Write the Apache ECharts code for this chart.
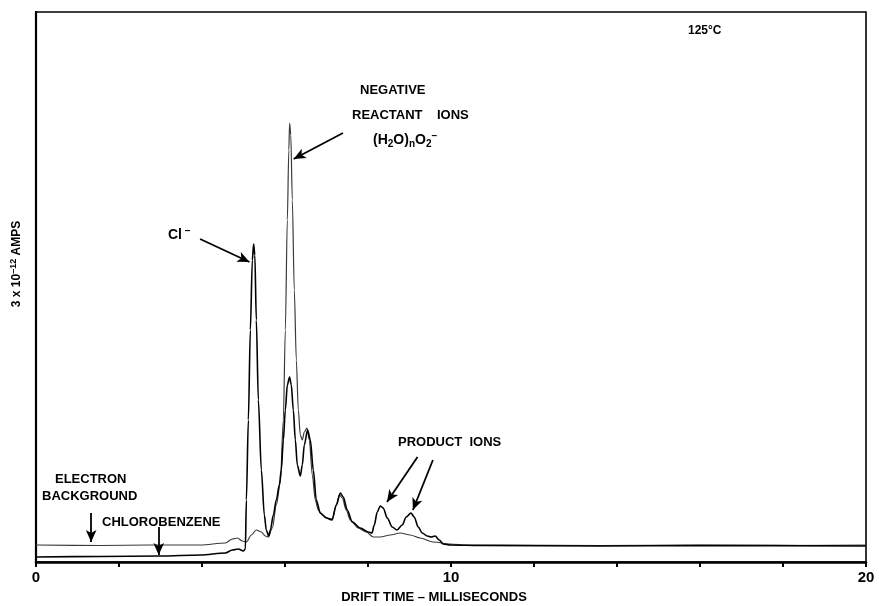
<!DOCTYPE html>
<html>
<head>
<meta charset="utf-8">
<script src="https://cdn.jsdelivr.net/npm/echarts@6/dist/echarts.min.js"></script>
<style>html,body{margin:0;padding:0;background:#fff}#c{width:879px;height:606px}</style>
</head>
<body>
<div id="c"></div>
<script>
// Electron background trace (drift time ms, current arbitrary units)
var bgTime = [0, 1.553, 2.757, 3.961, 4.563, 4.731, 4.852, 4.972, 5.069, 5.189, 5.309, 5.430, 5.526, 5.598, 5.695, 5.791, 5.887, 5.960, 6.008, 6.056, 6.092, 6.111, 6.140, 6.176, 6.224, 6.273, 6.321, 6.369, 6.417, 6.465, 6.530, 6.586, 6.658, 6.730, 6.802, 6.899, 7.019, 7.139, 7.236, 7.315, 7.380, 7.476, 7.573, 7.765, 7.958, 8.127, 8.295, 8.536, 8.777, 9.018, 9.258, 9.571, 9.981, 10.390, 11.185, 13.592, 16.000, 18.408, 20];
var bgAmp  = [1.7, 1.65, 1.7, 1.7, 1.9, 2.3, 2.4, 2.1, 2.0, 2.7, 3.2, 3.0, 2.6, 2.5, 3.4, 5.7, 7.9, 14.2, 23.2, 34.2, 41.2, 43.9, 42.7, 36.2, 27.2, 20.2, 15.2, 12.7, 12.2, 13.0, 13.4, 12.2, 8.7, 6.2, 5.2, 4.7, 4.4, 4.3, 5.7, 6.7, 6.4, 5.2, 4.2, 3.4, 3.0, 2.5, 2.5, 2.7, 2.9, 2.7, 2.4, 2.0, 1.8, 1.7, 1.7, 1.65, 1.7, 1.65, 1.7];
// Chlorobenzene trace
var cbTime = [0, 1.553, 2.998, 3.961, 4.563, 4.731, 4.876, 4.996, 5.045, 5.069, 5.117, 5.165, 5.213, 5.244, 5.273, 5.309, 5.358, 5.430, 5.502, 5.550, 5.606, 5.647, 5.719, 5.791, 5.863, 5.911, 5.960, 6.008, 6.056, 6.111, 6.152, 6.200, 6.249, 6.297, 6.369, 6.417, 6.465, 6.545, 6.610, 6.682, 6.754, 6.850, 6.995, 7.132, 7.236, 7.332, 7.404, 7.500, 7.621, 7.813, 8.006, 8.095, 8.151, 8.223, 8.295, 8.367, 8.464, 8.584, 8.697, 8.825, 8.921, 9.034, 9.114, 9.210, 9.307, 9.427, 9.523, 9.619, 9.716, 9.812, 9.981, 10.703, 13.592, 16.000, 20];
var cbAmp  = [0.5, 0.55, 0.6, 0.7, 0.9, 1.2, 1.3, 1.1, 1.3, 6.2, 14.2, 23.2, 30.2, 31.8, 30.7, 24.2, 16.2, 9.2, 4.7, 3.2, 2.6, 3.2, 4.7, 6.2, 7.7, 9.2, 12.2, 15.2, 17.7, 18.5, 17.7, 15.2, 12.2, 9.7, 8.6, 9.7, 11.7, 13.2, 12.2, 9.2, 6.2, 4.9, 4.4, 4.2, 5.7, 6.9, 6.5, 5.2, 4.0, 3.4, 3.0, 2.9, 3.7, 5.0, 5.6, 5.4, 4.4, 3.5, 3.2, 3.7, 4.5, 4.9, 4.5, 3.5, 2.9, 2.6, 2.5, 2.6, 2.2, 1.8, 1.7, 1.65, 1.6, 1.65, 1.6];
// x-axis tick labels
var xTickLabels = [0, 10, 20];
// Annotation arrows [startTime, startAmp, endTime, endAmp]
var arrowCl       = [3.954, 32.3, 5.144, 30.0];
var arrowReactant = [7.397, 42.9, 6.208, 40.3];
var arrowProd1    = [9.193, 10.5, 8.457, 6.0];
var arrowProd2    = [9.564, 10.2, 9.082, 5.2];
var arrowElectron = [1.329, 4.9, 1.329, 2.0];
var arrowChloro   = [2.957, 3.5, 2.957, 0.7];

function zip(a, b) { return a.map(function (x, i) { return [x, b[i]]; }); }
function arrow(a) { return [{ coord: [a[0], a[1]] }, { coord: [a[2], a[3]] }]; }

var F = '"Liberation Sans", "DejaVu Sans", Arial, sans-serif';
var rich = {
  n: { fontFamily: F, fontWeight: 'bold', fontSize: 14, lineHeight: 18, verticalAlign: 'middle', fill: '#000', color: '#000' },
  s: { fontFamily: F, fontWeight: 'bold', fontSize: 10, lineHeight: 10, verticalAlign: 'bottom', fill: '#000', color: '#000' },
  p: { fontFamily: F, fontWeight: 'bold', fontSize: 10, lineHeight: 10, verticalAlign: 'top', fill: '#000', color: '#000' }
};
function lbl(x, y, text) {
  return { type: 'text', x: x, y: y, style: { text: text, font: 'bold 13px ' + F, fill: '#000', verticalAlign: 'middle', align: 'left' } };
}
function rlbl(x, y, text) {
  return { type: 'text', x: x, y: y, style: { text: text, rich: rich, fill: '#000', verticalAlign: 'middle', align: 'left' } };
}

var chart = echarts.init(document.getElementById('c'), null, { renderer: 'canvas' });
chart.setOption({
  animation: false,
  backgroundColor: '#fff',
  grid: { left: 36, right: 13, top: 12, bottom: 44, show: true, borderColor: '#000', borderWidth: 1.6, backgroundColor: 'transparent' },
  xAxis: {
    type: 'value', min: 0, max: 20, interval: 2,
    axisLine: { show: true, lineStyle: { color: '#000', width: 2.6 } },
    axisTick: { show: true, length: 5, lineStyle: { color: '#000', width: 2 } },
    axisLabel: {
      color: '#000', fontFamily: F, fontWeight: 'bold', fontSize: 15, margin: 8,
      formatter: function (v) { return xTickLabels.indexOf(v) >= 0 ? String(v) : ''; }
    },
    splitLine: { show: false }
  },
  yAxis: {
    type: 'value', min: 0, max: 55,
    axisLine: { show: true, lineStyle: { color: '#000', width: 2.2 } },
    axisTick: { show: false }, axisLabel: { show: false }, splitLine: { show: false }
  },
  series: [
    {
      name: 'Electron background', type: 'line', data: zip(bgTime, bgAmp),
      showSymbol: false, smooth: 0.3, smoothMonotone: 'x',
      lineStyle: { color: '#3a3a3a', width: 1.2 }, z: 2,
      markLine: {
        silent: true, symbol: ['none', 'arrow'], symbolSize: [8, 12],
        lineStyle: { color: '#000', width: 1.8, type: 'solid' },
        label: { show: false },
        data: [arrow(arrowCl), arrow(arrowReactant), arrow(arrowProd1), arrow(arrowProd2), arrow(arrowElectron), arrow(arrowChloro)]
      }
    },
    {
      name: 'Chlorobenzene', type: 'line', data: zip(cbTime, cbAmp),
      showSymbol: false, smooth: 0.3, smoothMonotone: 'x',
      lineStyle: { color: '#000', width: 1.6 }, z: 3
    }
  ],
  graphic: [
    { type: 'text', x: 688, y: 31, style: { text: '125°C', font: 'bold 12px ' + F, fill: '#000', verticalAlign: 'middle' } },
    lbl(360, 90, 'NEGATIVE'),
    lbl(352, 115, 'REACTANT    IONS'),
    rlbl(373, 140, '{n|(H}{s|2}{n|O)}{s|n}{n|O}{s|2}{p|–}'),
    rlbl(168, 235, '{n|Cl}{p| –}'),
    lbl(398, 442, 'PRODUCT  IONS'),
    lbl(55, 479, 'ELECTRON'),
    lbl(42, 496, 'BACKGROUND'),
    lbl(102, 522, 'CHLOROBENZENE'),
    { type: 'text', x: 17, y: 264, rotation: Math.PI / 2,
      style: { text: '{y|3 x 10}{q|–12}{y| AMPS}', fill: '#000', align: 'center', verticalAlign: 'middle',
        rich: {
          y: { fontFamily: F, fontWeight: 'bold', fontSize: 12, lineHeight: 16, verticalAlign: 'middle' },
          q: { fontFamily: F, fontWeight: 'bold', fontSize: 9, lineHeight: 9, verticalAlign: 'top' }
        } } },
    { type: 'text', x: 434, y: 597, style: { text: 'DRIFT TIME – MILLISECONDS', font: 'bold 13px ' + F, fill: '#000', align: 'center', verticalAlign: 'middle' } }
  ]
});
</script>
</body>
</html>
